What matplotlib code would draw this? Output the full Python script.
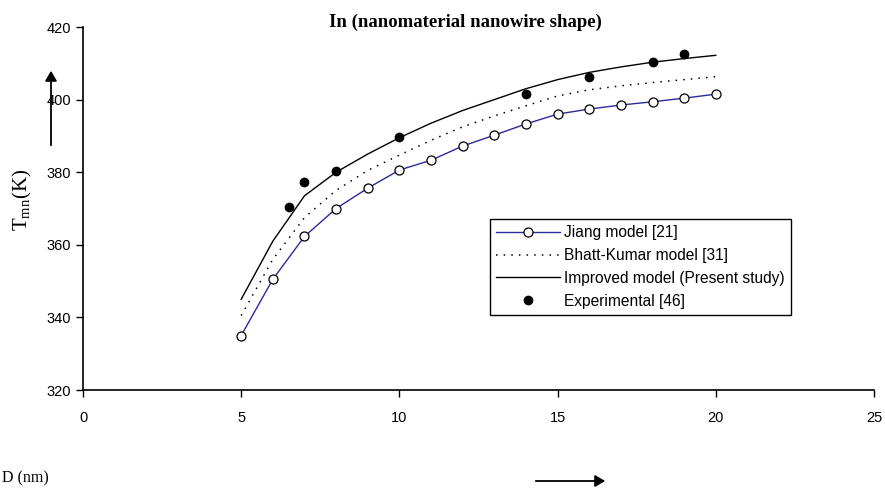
import matplotlib
matplotlib.use("Agg")
import matplotlib.pyplot as plt
import numpy as np

plt.rcParams['mathtext.fontset'] = 'custom'
plt.rcParams['mathtext.rm'] = 'Liberation Serif'

D = [5, 6, 7, 8, 9, 10, 11, 12, 13, 14, 15, 16, 17, 18, 19, 20]
jiang = [335, 350.5, 362.3, 370, 375.6, 380.6, 383.3, 387.2, 390.2, 393.3, 396, 397.4, 398.5, 399.4, 400.4, 401.5]
bhatt = [340.5, 356, 367.5, 375, 380.5, 384.7, 388.8, 392.5, 395.5, 398.3, 401, 402.7, 403.8, 404.7, 405.5, 406.3]
improved = [345, 361, 373.5, 380, 385, 389.5, 393.5, 397, 400, 403, 405.5, 407.5, 409, 410.3, 411.3, 412.2]
exp_D = [6.5, 7, 8, 10, 14, 16, 18, 19]
exp_T = [370.3, 377.4, 380.3, 389.6, 401.6, 406.2, 410.4, 412.5]

xticks = [0, 5, 10, 15, 20, 25]
yticks = [320, 340, 360, 380, 400, 420]

fig = plt.figure(figsize=(8.85, 4.91), dpi=100)
ax = fig.add_axes([83/885, 1-390/491, (874-83)/885, (390-27)/491])

ax.plot(D, jiang, color='#2b2b9b', lw=1.0, marker='o', ms=6.5, mfc='white',
        mec='black', mew=0.9, label='Jiang model [21]', zorder=3)
ax.plot(D, bhatt, color='black', lw=1.1, ls=(0, (1, 4)), label='Bhatt-Kumar model [31]')
ax.plot(D, improved, color='black', lw=1.0, label='Improved model (Present study)')
ax.plot(exp_D, exp_T, ls='none', marker='o', ms=6, color='black',
        label='Experimental [46]', zorder=4)

ax.set_xlim(0, 25)
ax.set_ylim(320, 420)
ax.set_xticks(xticks)
ax.set_yticks(yticks)
ax.spines['top'].set_visible(False)
ax.spines['right'].set_visible(False)
ax.spines['left'].set_linewidth(1.2)
ax.spines['bottom'].set_linewidth(1.2)
ax.tick_params(direction='out', length=5, width=1.0, labelsize=10.5)
ax.tick_params(axis='x', pad=10)
for lab in ax.get_xticklabels() + ax.get_yticklabels():
    lab.set_fontfamily('Liberation Sans')

leg = ax.legend(loc='upper left', bbox_to_anchor=((490-83)/791, 1-(219-27)/363),
                frameon=True, fancybox=False, edgecolor='black', framealpha=1,
                prop={'family': 'Liberation Sans', 'size': 11.2}, handlelength=4.1,
                borderpad=0.4, labelspacing=0.5, handletextpad=0.25,
                borderaxespad=0)
leg.get_frame().set_linewidth(1.0)

fig.text(465/885, 1-22/491, 'In (nanomaterial nanowire shape)', ha='center', va='center',
         fontfamily='Liberation Serif', fontweight='bold', fontsize=13.5)
fig.text(22/885, 1-200/491, r'T$_{\rm mn}$(K)', rotation=90, ha='center', va='center',
         fontfamily='Liberation Serif', fontsize=15)
fig.text(2/885, 1-478/491, 'D (nm)', ha='left', va='center',
         fontfamily='Liberation Serif', fontsize=11.5)

fig.add_artist(matplotlib.patches.FancyArrowPatch(
    (51/885, 1-148/491), (51/885, 1-68/491), transform=fig.transFigure,
    arrowstyle='-|>,head_length=6,head_width=3.5', color='black', lw=1.3))
fig.add_artist(matplotlib.patches.FancyArrowPatch(
    (533/885, 1-481/491), (608/885, 1-481/491), transform=fig.transFigure,
    arrowstyle='-|>,head_length=6,head_width=3.5', color='black', lw=1.3))

fig.savefig('out.png', dpi=100)
